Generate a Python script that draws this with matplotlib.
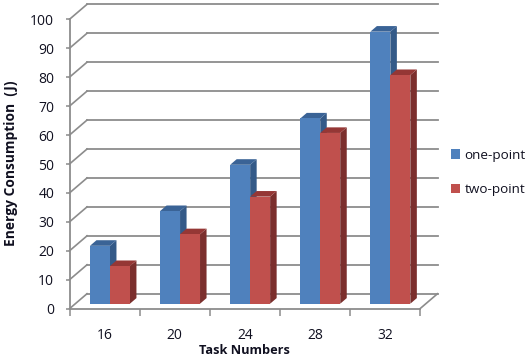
import matplotlib
matplotlib.use("Agg")
import matplotlib.pyplot as plt
from matplotlib.patches import Polygon, Patch

categories = ["16", "20", "24", "28", "32"]
one_point = [20, 32, 48, 64, 94]
two_point = [13, 24, 37, 59, 79]
y_ticks = list(range(0, 101, 10))

BLUE = "#4F81BD"
BLUE_SIDE = "#345A88"
BLUE_TOP = "#3A6396"
RED = "#C0504D"
RED_SIDE = "#7B2F2D"
RED_TOP = "#953735"
GRID = "#8C8C8C"
TEXT = "#101020"

# fake 3D offsets, in data units
WALL_DX, WALL_DY = 0.25, 5.18
BAR_DX, BAR_DY = 0.077, 1.73
DEPTH_DX, DEPTH_DY = 0.093, 1.93
BAR_W = 0.285

plt.rcParams["font.family"] = ["Open Sans", "DejaVu Sans"]

fig = plt.figure(figsize=(5.29, 3.58), dpi=100)
ax = fig.add_axes([69.5 / 529, 1 - 308.7 / 358, 350.5 / 529, 289.4 / 358])
ax.set_xlim(0, 5)
ax.set_ylim(0, 100)
for s in ax.spines.values():
    s.set_visible(False)


def draw_bar(x, value, face, side, top):
    x0 = x - BAR_W
    x1 = x
    if face == RED:
        x0, x1 = x, x + BAR_W
    y1 = value + BAR_DY
    ax.add_patch(Polygon([(x1, BAR_DY), (x1 + DEPTH_DX, BAR_DY + DEPTH_DY),
                          (x1 + DEPTH_DX, y1 + DEPTH_DY), (x1, y1)],
                         facecolor=side, edgecolor="none", zorder=3, clip_on=False))
    ax.add_patch(Polygon([(x0, y1), (x0 + DEPTH_DX, y1 + DEPTH_DY),
                          (x1 + DEPTH_DX, y1 + DEPTH_DY), (x1, y1)],
                         facecolor=top, edgecolor="none", zorder=3, clip_on=False))
    ax.bar(x0, value, width=BAR_W, bottom=BAR_DY, align="edge", color=face, zorder=4)


# back wall and left side
for v in y_ticks:
    ax.plot([0, WALL_DX], [v, v + WALL_DY], color=GRID, lw=1.2, clip_on=False, zorder=1)
    ax.plot([WALL_DX, 5 + WALL_DX], [v + WALL_DY, v + WALL_DY], color=GRID, lw=1.3,
            clip_on=False, zorder=1)
# floor edges
ax.plot([0, 5], [0, 0], color=GRID, lw=1.3, clip_on=False, zorder=2)
ax.plot([5, 5 + WALL_DX], [0, WALL_DY], color=GRID, lw=1.2, clip_on=False, zorder=2)
ax.plot([0, 0], [0, 100], color=GRID, lw=1.3, clip_on=False, zorder=2)

for i in range(len(categories)):
    cx = i + 0.5 + BAR_DX
    draw_bar(cx, one_point[i], BLUE, BLUE_SIDE, BLUE_TOP)
    draw_bar(cx, two_point[i], RED, RED_SIDE, RED_TOP)

ax.set_yticks(y_ticks)
ax.set_yticklabels([str(v) for v in y_ticks])
ax.tick_params(axis="y", length=3, width=1.1, color=GRID, labelcolor=TEXT,
               labelsize=10, pad=8)
ax.set_xticks(range(6))
ax.set_xticklabels([])
ax.tick_params(axis="x", which="major", length=5, width=1.1, color=GRID)
ax.set_xticks([i + 0.5 for i in range(5)], minor=True)
ax.set_xticklabels(categories, minor=True)
ax.tick_params(axis="x", which="minor", length=0, labelcolor=TEXT, labelsize=10, pad=14)

fig.text(244.5 / 529, 1 - 350 / 358, "Task Numbers", ha="center", va="center",
         fontsize=9.2, fontweight="bold", color=TEXT)
fig.text(11 / 529, 1 - 163 / 358, "Energy Consumption  (J)", rotation=90, ha="center",
         va="center", fontsize=9.9, fontweight="bold", color=TEXT)

handles = [Patch(facecolor=BLUE, label="one-point"), Patch(facecolor=RED, label="two-point")]
fig.legend(handles=handles, loc="center left", bbox_to_anchor=(451 / 529, 1 - 172.5 / 358),
           frameon=False, fontsize=9.7, handlelength=0.7, handleheight=0.7,
           handletextpad=0.3, labelspacing=1.6, borderpad=0, borderaxespad=0,
           labelcolor=TEXT)

fig.savefig("out.png", dpi=100)
plt.close(fig)
